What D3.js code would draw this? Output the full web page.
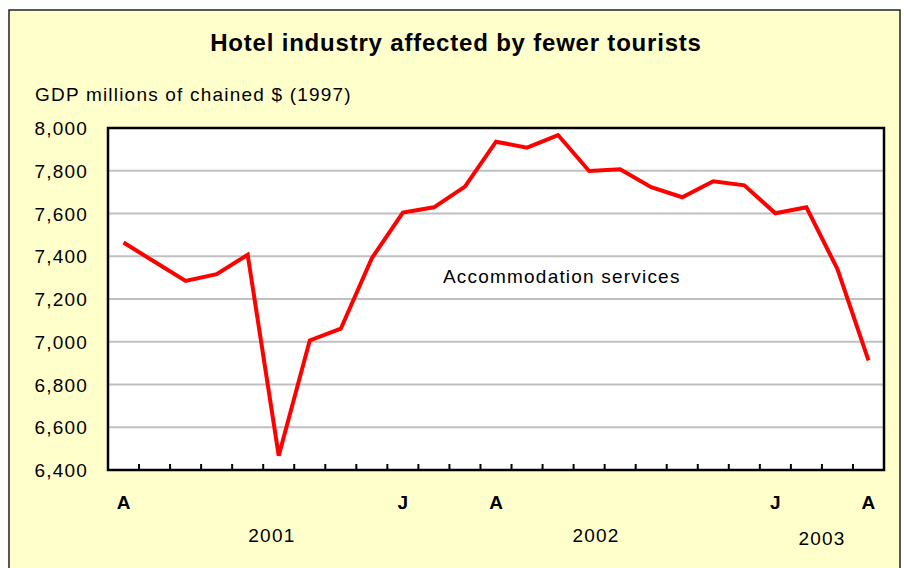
<!DOCTYPE html>
<html>
<head>
<meta charset="utf-8">
<script src="https://cdn.jsdelivr.net/npm/d3@7"></script>
<style>
  body { margin: 0; background: #ffffff; }
  text { font-family: "Liberation Sans", Arial, sans-serif; }
</style>
</head>
<body>
<div id="chart"></div>
<script>
// Monthly values, April 2001 to April 2003
const months = ["Apr01","May01","Jun01","Jul01","Aug01","Sep01","Oct01","Nov01","Dec01",
  "Jan02","Feb02","Mar02","Apr02","May02","Jun02","Jul02","Aug02","Sep02","Oct02","Nov02","Dec02",
  "Jan03","Feb03","Mar03","Apr03"];
const gdp = [7464, 7374, 7285, 7316, 7407, 6467, 7006, 7061, 7391,
  7604, 7629, 7726, 7936, 7908, 7967, 7799, 7807, 7723, 7676, 7751, 7732,
  7601, 7629, 7340, 6913];
const yTicks = [6400, 6600, 6800, 7000, 7200, 7400, 7600, 7800, 8000];
const monthLabels = [{m: "Apr01", t: "A"}, {m: "Jan02", t: "J"}, {m: "Apr02", t: "A"}, {m: "Jan03", t: "J"}, {m: "Apr03", t: "A"}];
const yearLabels = ["2001", "2002", "2003"];

const WIDTH = 904, HEIGHT = 568;
const plot = {left: 108, right: 884, top: 128, bottom: 470};
// year label placement, in months from the left axis
const yearPos = [5.28, 15.72, 23.0];
const yearBase = [542, 542, 545];

let svg = d3.select("#chart").append("svg")
  .attr("width", WIDTH)
  .attr("height", HEIGHT);

// outer frame
svg.append("rect")
  .attr("x", 9).attr("y", 10)
  .attr("width", 891).attr("height", 570)
  .attr("fill", "#ffffcc")
  .attr("stroke", "#222").attr("stroke-width", 1.5);

let x = d3.scaleBand().domain(months).range([plot.left, plot.right]);
let xm = d3.scaleLinear().domain([0, months.length]).range([plot.left, plot.right]);
let y = d3.scaleLinear().domain([6400, 8000]).range([plot.bottom, plot.top]);

svg.append("rect")
  .attr("x", plot.left).attr("y", plot.top)
  .attr("width", plot.right - plot.left).attr("height", plot.bottom - plot.top)
  .attr("fill", "#fff");

// gridlines
svg.append("g")
  .selectAll("line")
  .data(yTicks.filter(d => d > 6400 && d < 8000))
  .join("line")
  .attr("x1", plot.left).attr("x2", plot.right)
  .attr("y1", d => y(d)).attr("y2", d => y(d))
  .attr("stroke", "#c0c0c0").attr("stroke-width", 2);

// y tick labels
svg.append("g")
  .selectAll("text")
  .data(yTicks)
  .join("text")
  .attr("x", 88)
  .attr("y", d => y(d) + 7)
  .attr("text-anchor", "end")
  .attr("font-size", "19px")
  .attr("letter-spacing", "1.2px")
  .text(d => d3.format(",")(d));

// x axis ticks between categories
svg.append("g")
  .selectAll("line")
  .data(months.slice(1))
  .join("line")
  .attr("x1", d => x(d)).attr("x2", d => x(d))
  .attr("y1", plot.bottom).attr("y2", plot.bottom - 6)
  .attr("stroke", "#000").attr("stroke-width", 2);

// data line
let line = d3.line()
  .x((d, i) => x(months[i]) + x.bandwidth() / 2)
  .y(d => y(d));
svg.append("path")
  .datum(gdp)
  .attr("d", line)
  .attr("fill", "none")
  .attr("stroke", "#ff0000")
  .attr("stroke-width", 4);

// plot border
svg.append("rect")
  .attr("x", plot.left).attr("y", plot.top)
  .attr("width", plot.right - plot.left).attr("height", plot.bottom - plot.top)
  .attr("fill", "none")
  .attr("stroke", "#000").attr("stroke-width", 2.5);

// month labels
svg.append("g")
  .selectAll("text")
  .data(monthLabels)
  .join("text")
  .attr("x", d => x(d.m) + x.bandwidth() / 2)
  .attr("y", 509)
  .attr("text-anchor", "middle")
  .attr("font-size", "19px")
  .attr("font-weight", "bold")
  .text(d => d.t);

// year labels
svg.append("g")
  .selectAll("text")
  .data(yearLabels)
  .join("text")
  .attr("x", (d, i) => xm(yearPos[i]))
  .attr("y", (d, i) => yearBase[i])
  .attr("text-anchor", "middle")
  .attr("font-size", "19px")
  .attr("letter-spacing", "1.2px")
  .text(d => d);

// title
svg.append("text")
  .attr("x", 456).attr("y", 51)
  .attr("text-anchor", "middle")
  .attr("font-size", "24px")
  .attr("font-weight", "bold")
  .attr("letter-spacing", "0.8px")
  .text("Hotel industry affected by fewer tourists");

svg.append("text")
  .attr("x", 35).attr("y", 101)
  .attr("font-size", "19px")
  .attr("letter-spacing", "1.2px")
  .text("GDP millions of chained $ (1997)");

svg.append("text")
  .attr("x", 443).attr("y", 283)
  .attr("font-size", "19px")
  .attr("letter-spacing", "1.2px")
  .text("Accommodation services");
</script>
</body>
</html>
